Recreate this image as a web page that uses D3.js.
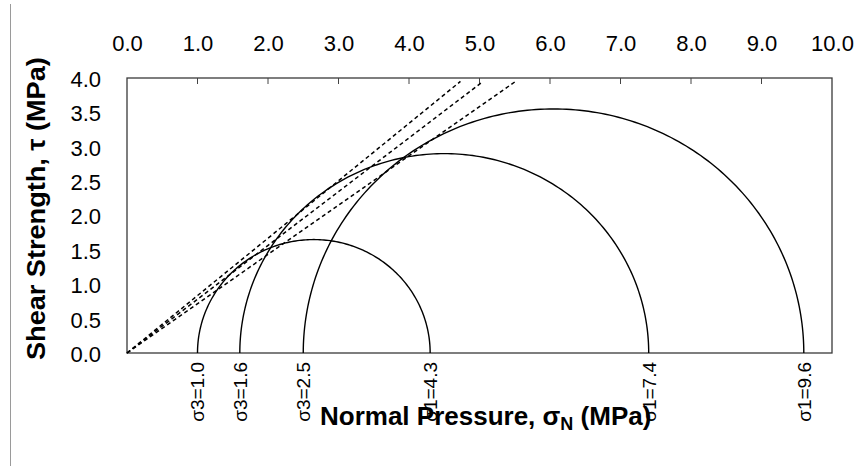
<!DOCTYPE html>
<html><head><meta charset="utf-8">
<script src="https://cdn.jsdelivr.net/npm/d3@7"></script>
<style>body{margin:0;background:#fff;} svg{display:block;}</style>
</head><body><svg id="c" width="864" height="468"></svg>
<script>
// ---- data ----
const sigma3 = [1.0, 1.6, 2.5];          // minor principal stress of each test (MPa)
const sigma1 = [4.3, 7.4, 9.6];          // major principal stress of each test (MPa)
const envelopeStart = [[0, 0], [0, 0], [0, 0]];             // dashed envelope start (σ, τ)
const envelopeEnd = [[4.73, 3.95], [5.05, 3.95], [5.51, 3.95]]; // dashed envelope end (σ, τ)
const xTickValues = [0, 1, 2, 3, 4, 5, 6, 7, 8, 9, 10];
const yTickValues = [0, 0.5, 1, 1.5, 2, 2.5, 3, 3.5, 4];
const innerTopTicks = [1, 2, 3, 4, 5, 6, 7, 8, 9];

const svg = d3.select("#c");
const FONT = "'Liberation Sans', Arial, sans-serif";

const x = d3.scaleLinear().domain([0, 10]).range([127, 832]);
const y = d3.scaleLinear().domain([0, 4]).range([353, 78]);

// scan edge line
svg.append("line").attr("x1", 10.5).attr("x2", 10.5).attr("y1", 4).attr("y2", 466)
  .attr("stroke", "#9a9a9a").attr("stroke-width", 1);

// plot frame
svg.append("rect").attr("x", x(0)).attr("y", y(4))
  .attr("width", x(10) - x(0)).attr("height", y(0) - y(4))
  .attr("fill", "none").attr("stroke", "#3a3a3a").attr("stroke-width", 1.3);

// small inner ticks on top border
svg.append("g").selectAll("line").data(innerTopTicks).join("line")
  .attr("x1", d => x(d)).attr("x2", d => x(d))
  .attr("y1", y(4)).attr("y2", y(4) + 6)
  .attr("stroke", "#444").attr("stroke-width", 1);

// top axis labels
const gTop = svg.append("g").attr("transform", `translate(0,${y(4)})`)
  .call(d3.axisTop(x).tickValues(xTickValues).tickFormat(d3.format(".1f")).tickSize(0).tickPadding(27));
gTop.select(".domain").remove();
gTop.selectAll("text").attr("font-family", FONT).attr("font-size", 22).attr("fill", "#000");

// left axis labels
const gLeft = svg.append("g").attr("transform", `translate(${x(0)},0)`)
  .call(d3.axisLeft(y).tickValues(yTickValues).tickFormat(d3.format(".1f")).tickSize(0).tickPadding(26));
gLeft.select(".domain").remove();
gLeft.selectAll("text").attr("font-family", FONT).attr("font-size", 22).attr("fill", "#000").attr("dy", "0.38em");

// Mohr circles
const line = d3.line().x(d => x(d[0])).y(d => y(d[1]));
const circles = sigma3.map((s3, i) => {
  const c = (sigma1[i] + s3) / 2, r = (sigma1[i] - s3) / 2;
  return d3.range(0, 181, 1).map(a => [c + r * Math.cos(a * Math.PI / 180), r * Math.sin(a * Math.PI / 180)]);
});
svg.append("g").selectAll("path").data(circles).join("path")
  .attr("d", line).attr("fill", "none").attr("stroke", "#000").attr("stroke-width", 1.4);

// dashed failure envelopes
svg.append("g").selectAll("path").data(envelopeStart.map((s, i) => [s, envelopeEnd[i]])).join("path")
  .attr("d", line).attr("fill", "none").attr("stroke", "#000").attr("stroke-width", 1.5)
  .attr("stroke-dasharray", "4,3");

// bottom stress labels (rotated)
const labelData = sigma3.map(v => ({v, t: "σ3=" + d3.format(".1f")(v)}))
  .concat(sigma1.map(v => ({v, t: "σ1=" + d3.format(".1f")(v)})));
svg.append("g").selectAll("text").data(labelData).join("text")
  .attr("transform", d => `translate(${x(d.v)},362) rotate(-90)`)
  .attr("text-anchor", "end").attr("dy", "0.36em")
  .attr("font-family", FONT).attr("font-size", 19).attr("fill", "#000")
  .text(d => d.t);

// x title
const xt = svg.append("text").attr("font-family", FONT).attr("font-size", 26).attr("font-weight", "bold")
  .attr("x", 320).attr("y", 425);
xt.append("tspan").text("Normal Pressure, ");
xt.append("tspan").text("σ");
xt.append("tspan").attr("font-size", 18).attr("dy", 5).text("N");
xt.append("tspan").attr("dy", -5).text(" (MPa)");

// y title
const yt = svg.append("text").attr("font-family", FONT).attr("font-size", 26).attr("font-weight", "bold")
  .attr("x", 0).attr("y", 0);
yt.append("tspan").text("Shear Strength, ");
yt.append("tspan").text("τ");
yt.append("tspan").text(" (MPa)");
{
  const w = yt.node().getBBox().width, target = 360 - 57;
  yt.attr("transform", `translate(45,360) rotate(-90) scale(${target / w},1)`);
}
</script></body></html>
